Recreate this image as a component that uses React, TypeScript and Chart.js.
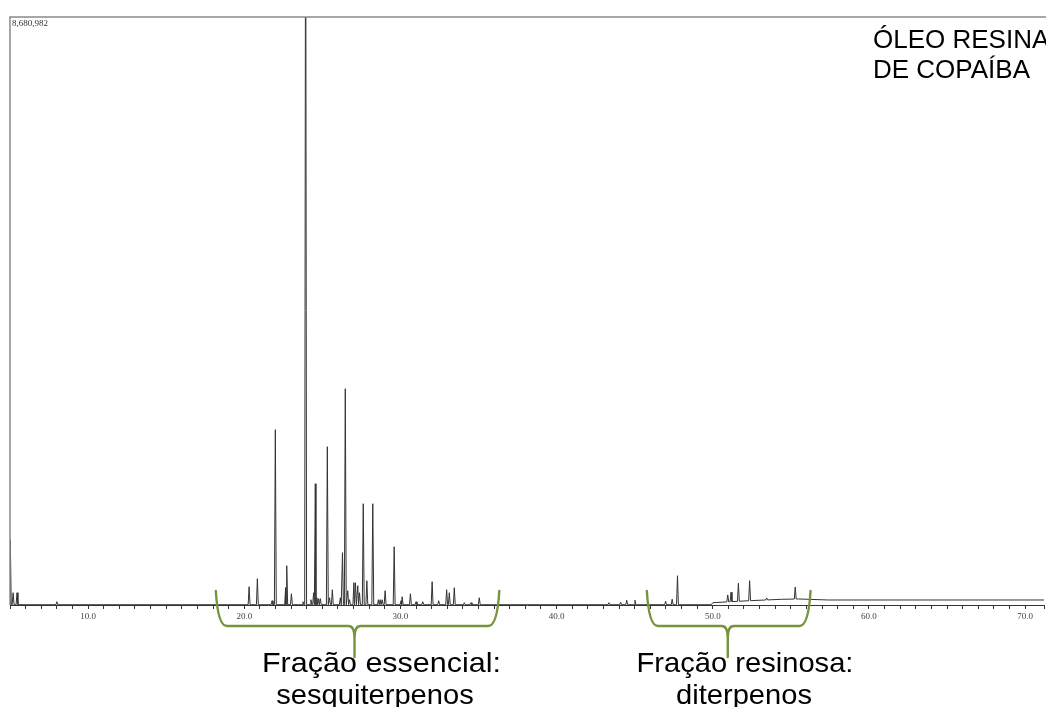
import React, { useEffect, useRef } from "react";
import { Chart, registerables } from "chart.js";

Chart.register(...registerables);

// Retention times (min) of the peaks
const peakTimes = [
  5.02, 5.2, 5.45, 8.0,
  20.31, 20.84, 21.78, 21.99, 22.65, 22.72, 23.02, 23.76, 23.93, 24.27, 24.44, 24.55,
  24.65, 24.76, 24.87, 25.32, 25.46, 25.64, 26.15, 26.29, 26.47, 26.63, 26.74, 27.02,
  27.12, 27.27, 27.38, 27.62, 27.85, 28.23, 28.59, 28.7, 28.83, 29.02, 29.6, 30.04,
  30.11, 30.64, 31.0, 31.43, 32.03, 32.45, 32.96, 33.13, 33.45, 34.09, 34.52, 35.05,
  43.35, 44.1, 44.49, 45.02, 46.98, 47.4, 47.74,
  50.96, 51.17, 51.64, 52.36, 53.45, 55.28,
];

// Peak heights above the baseline (counts)
const peakHeights = [
  960000, 177000, 177000, 44000,
  266000, 384000, 59000, 2584000, 251000, 576000, 162000, 44000, 11800000, 74000, 177000, 1786000,
  103000, 89000, 89000, 2333000, 103000, 221000, 103000, 768000, 3189000, 207000, 74000, 325000,
  325000, 281000, 177000, 1491000, 354000, 1491000, 74000, 74000, 74000, 207000, 856000, 59000,
  118000, 162000, 44000, 44000, 340000, 59000, 221000, 177000, 251000, 30000, 30000, 103000,
  30000, 37000, 66000, 66000, 52000, 81000, 428000,
  103000, 140000, 266000, 295000, 30000, 177000,
];

// Baseline drift knots
const baselineTimes = [5.0, 49.9, 50.0, 52.3, 54.4, 55.5, 57.4, 71.3];
const baselineLevels = [4000, 4000, 34000, 63000, 84000, 89000, 74000, 74000];

// Axis range and top label
const xMin = 5.0;
const xMax = 71.21;
const yMax = 8680982;
const yMaxLabel = "8,680,982";

// Annotations (brace ranges in minutes)
const braceStarts = [18.18, 45.78];
const braceEnds = [36.33, 56.26];
const braceTips = [27.06, 50.96];
const braceLines1 = ["Fração essencial:", "Fração resinosa:"];
const braceLines2 = ["sesquiterpenos", "diterpenos"];
const sampleTitle = ["ÓLEO RESINA", "DE COPAÍBA"];

const PEAK_HALF_WIDTH = 0.06;

function baseAt(t: number): number {
  for (let i = 0; i < baselineTimes.length - 1; i++) {
    if (t >= baselineTimes[i] && t <= baselineTimes[i + 1]) {
      const f = (t - baselineTimes[i]) / (baselineTimes[i + 1] - baselineTimes[i]);
      return baselineLevels[i] + f * (baselineLevels[i + 1] - baselineLevels[i]);
    }
  }
  return baselineLevels[baselineLevels.length - 1];
}

function buildTrace() {
  const pts: { x: number; y: number }[] = [];
  baselineTimes.forEach((t, i) => pts.push({ x: t, y: baselineLevels[i] }));
  peakTimes.forEach((t, i) => {
    const b = baseAt(t);
    pts.push({ x: t - PEAK_HALF_WIDTH, y: baseAt(t - PEAK_HALF_WIDTH) });
    pts.push({ x: t, y: b + peakHeights[i] });
    pts.push({ x: t + PEAK_HALF_WIDTH, y: baseAt(t + PEAK_HALF_WIDTH) });
  });
  pts.sort((a, b) => a.x - b.x);
  return pts;
}

function stretchedText(ctx: CanvasRenderingContext2D, text: string, cx: number, y: number, sx: number) {
  ctx.save();
  ctx.translate(cx, y);
  ctx.scale(sx, 1);
  ctx.fillText(text, 0, 0);
  ctx.restore();
}

const overlayPlugin = {
  id: "overlay",
  afterDraw(chart: any) {
    const { ctx, chartArea: a } = chart;
    const xs = chart.scales.x;
    ctx.save();
    // frame
    ctx.strokeStyle = "#8a8a8a";
    ctx.lineWidth = 1.5;
    ctx.beginPath();
    ctx.moveTo(a.left, a.bottom);
    ctx.lineTo(a.left, a.top);
    ctx.lineTo(a.right + 2, a.top);
    ctx.stroke();
    // top-left max label
    ctx.fillStyle = "#333";
    ctx.font = '9px "Liberation Serif", serif';
    ctx.textBaseline = "top";
    ctx.textAlign = "left";
    ctx.fillText(yMaxLabel, a.left + 2, a.top + 2);

    // braces
    ctx.strokeStyle = "#77933c";
    ctx.lineWidth = 2.4;
    ctx.lineCap = "round";
    ctx.lineJoin = "round";
    const yTop = 591;
    const yMid = 626;
    const yTip = 657;
    for (let i = 0; i < braceStarts.length; i++) {
      const x0 = xs.getPixelForValue(braceStarts[i]);
      const x1 = xs.getPixelForValue(braceEnds[i]);
      const cx = xs.getPixelForValue(braceTips[i]);
      ctx.beginPath();
      ctx.moveTo(x0, yTop);
      ctx.quadraticCurveTo(x0 + 2, yMid, x0 + 11, yMid);
      ctx.lineTo(cx - 6, yMid);
      ctx.quadraticCurveTo(cx, yMid, cx, yMid + 12);
      ctx.lineTo(cx, yTip);
      ctx.moveTo(cx, yMid + 12);
      ctx.quadraticCurveTo(cx, yMid, cx + 6, yMid);
      ctx.lineTo(x1 - 11, yMid);
      ctx.quadraticCurveTo(x1 - 2, yMid, x1, yTop);
      ctx.stroke();
    }

    // texts under braces
    ctx.fillStyle = "#000";
    ctx.font = '28px "Liberation Sans", Arial, sans-serif';
    ctx.textAlign = "center";
    ctx.textBaseline = "alphabetic";
    stretchedText(ctx, braceLines1[0], 381.5, 672, 1.09);
    stretchedText(ctx, braceLines2[0], 375, 704, 1.04);
    stretchedText(ctx, braceLines1[1], 745, 672, 1.04);
    stretchedText(ctx, braceLines2[1], 744, 704, 1.04);

    // sample title
    ctx.font = '26px "Liberation Sans", Arial, sans-serif';
    ctx.textAlign = "left";
    ctx.fillText(sampleTitle[0], 873, 48);
    ctx.fillText(sampleTitle[1], 873, 78);
    ctx.restore();
  },
};

export default function App() {
  const ref = useRef<HTMLCanvasElement | null>(null);
  useEffect(() => {
    if (!ref.current) return;
    const chart = new Chart(ref.current, {
      type: "line",
      data: {
        datasets: [
          {
            data: buildTrace(),
            borderColor: "#333333",
            borderWidth: 1,
            pointRadius: 0,
            tension: 0,
            fill: false,
          },
        ],
      },
      options: {
        animation: false,
        responsive: false,
        parsing: false as any,
        layout: { padding: { left: 10, top: 17, right: 0, bottom: 72 } },
        plugins: { legend: { display: false }, tooltip: { enabled: false }, title: { display: false } },
        scales: {
          x: {
            type: "linear",
            min: xMin,
            max: xMax,
            afterFit: (s: any) => {
              s.height = 30;
            },
            ticks: {
              stepSize: 1,
              autoSkip: false,
              maxRotation: 0,
              padding: 2,
              color: "#444",
              font: { family: '"Liberation Serif", serif', size: 9 },
              callback: (v: any) => (Math.abs(v % 10) < 1e-9 ? Number(v).toFixed(1) : ""),
            },
            grid: { drawOnChartArea: false, drawTicks: true, tickLength: 4, color: "#333" },
            border: { display: true, color: "#333", width: 1 },
          },
          y: {
            display: false,
            min: 0,
            max: yMax,
          },
        },
      },
      plugins: [overlayPlugin],
    });
    return () => chart.destroy();
  }, []);
  return (
    <div style={{ position: "absolute", left: 0, top: 0, width: 1046, height: 707, background: "#fff" }}>
      <canvas ref={ref} width={1046} height={707} style={{ display: "block" }} />
    </div>
  );
}
